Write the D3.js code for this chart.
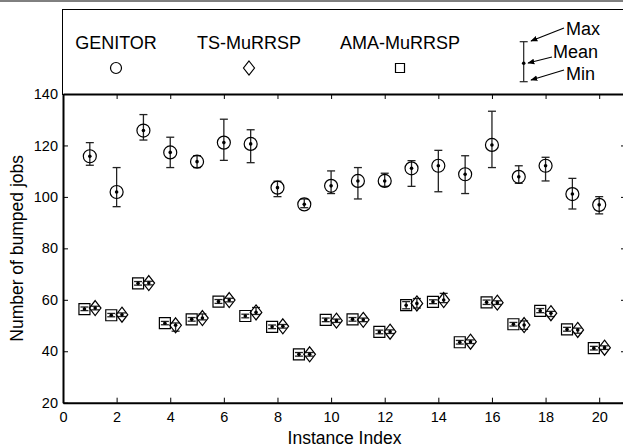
<!DOCTYPE html>
<html>
<head>
<meta charset="utf-8">
<script src="https://cdn.jsdelivr.net/npm/d3@7.9.0/dist/d3.min.js"></script>
<style>
  body { margin: 0; background: #fff; }
  svg { display: block; font-family: "Liberation Sans", Arial, sans-serif; }
</style>
</head>
<body>
<svg width="623" height="448"></svg>
<script>
// instance indices
const instances = d3.range(1, 21);

// GENITOR
const genMean = [115.8, 101.9, 125.8, 117.3, 113.7, 121.1, 120.6, 103.6, 97.1, 104.3, 106.2, 106.2, 111.1, 112.1, 108.8, 120.2, 107.8, 112.1, 101.1, 96.9];
const genMax  = [121.1, 111.4, 132.0, 123.2, 116.0, 130.2, 126.1, 106.1, 99.2, 110.1, 111.4, 109.2, 114.1, 118.1, 116.0, 133.3, 112.1, 115.4, 107.2, 100.1];
const genMin  = [112.3, 96.2, 122.1, 111.4, 111.4, 114.2, 113.3, 100.1, 95.8, 101.3, 99.2, 104.1, 104.1, 102.0, 101.3, 111.4, 105.3, 106.2, 95.3, 93.4];

// TS-MuRRSP
const tsMean = [56.8, 54.2, 66.5, 50.1, 52.9, 59.9, 55.1, 49.7, 38.8, 51.9, 52.2, 47.6, 58.6, 59.9, 43.7, 58.9, 50.2, 54.8, 48.3, 41.4];
const tsMax  = [57.5, 54.9, 67.2, 51.0, 54.5, 60.6, 57.0, 50.4, 39.5, 52.5, 52.9, 48.3, 60.5, 62.5, 44.4, 59.6, 51.8, 55.5, 49.0, 42.1];
const tsMin  = [56.1, 53.5, 65.8, 47.8, 52.2, 59.2, 54.3, 49.0, 38.1, 51.2, 51.5, 46.9, 56.8, 58.9, 43.0, 58.2, 48.5, 53.5, 47.0, 40.7];

// AMA-MuRRSP
const amaMean = [56.4, 54.0, 66.4, 50.9, 52.4, 59.3, 53.7, 49.5, 38.8, 52.2, 52.4, 47.5, 57.9, 59.2, 43.5, 59.0, 50.5, 55.7, 48.5, 41.2];
const amaMax  = [57.2, 54.7, 67.1, 51.6, 53.1, 60.1, 54.4, 50.2, 39.5, 52.9, 53.1, 48.2, 59.3, 60.0, 44.2, 59.9, 51.2, 56.6, 49.3, 41.9];
const amaMin  = [55.8, 53.4, 65.7, 50.3, 51.7, 58.6, 53.0, 48.8, 38.1, 51.5, 51.7, 46.8, 56.5, 58.5, 42.8, 58.2, 49.8, 55.0, 47.8, 40.5];

const xTicks = d3.range(0, 21, 2);
const yTicks = d3.range(20, 141, 20);
const legendNames = ["GENITOR", "TS-MuRRSP", "AMA-MuRRSP"];

const svg = d3.select("svg");

const x = d3.scaleLinear().domain([0, 21]).range([63, 626]);
const y = d3.scaleLinear().domain([20, 140]).range([402.7, 94]);

// top rule and legend box
svg.append("line").attr("x1", 0).attr("x2", 623).attr("y1", 1).attr("y2", 1)
   .attr("stroke", "#000").attr("stroke-width", 1);
svg.append("rect").attr("x", 62.5).attr("y", 9.5).attr("width", 600).attr("height", 85)
   .attr("fill", "none").attr("stroke", "#000").attr("stroke-width", 1);

// axes (ticks inside, on all four sides)
const gx = svg.append("g").attr("transform", `translate(0,${y(20)})`)
  .call(d3.axisBottom(x).tickValues(xTicks).tickSizeInner(-5).tickSizeOuter(0).tickPadding(9));
const gxTop = svg.append("g").attr("transform", `translate(0,${y(140)})`)
  .call(d3.axisTop(x).tickValues(xTicks).tickSizeInner(-5).tickSizeOuter(0).tickFormat(""));
const gy = svg.append("g").attr("transform", `translate(${x(0)},0)`)
  .call(d3.axisLeft(y).tickValues(yTicks).tickSizeInner(-5).tickSizeOuter(0).tickPadding(5));
const gyRight = svg.append("g").attr("transform", `translate(${x(21)},0)`)
  .call(d3.axisRight(y).tickValues(yTicks).tickSizeInner(-5).tickSizeOuter(0).tickFormat(""));

[gx, gxTop, gy, gyRight].forEach(g => {
  g.select(".domain").attr("stroke", "#000").attr("stroke-width", 2);
  g.selectAll(".tick line").attr("stroke", "#000").attr("stroke-width", 1);
  g.selectAll(".tick text").attr("fill", "#000").style("font-size", "14.5px")
   .style("font-family", "'Liberation Sans', Arial, sans-serif");
});

// axis titles
svg.append("text").attr("x", x(10.5)).attr("y", 444).attr("text-anchor", "middle")
   .style("font-size", "17.5px").text("Instance Index");
svg.append("text").attr("transform", `translate(23,${y(80)}) rotate(-90)`)
   .attr("text-anchor", "middle").style("font-size", "17.5px").text("Number of bumped jobs");

// error bars
function errorBars(offset, mean, mx, mn) {
  const g = svg.append("g").attr("stroke", "#222").attr("stroke-width", 1.3);
  instances.forEach((d, i) => {
    const cx = x(d + offset);
    g.append("line").attr("x1", cx).attr("x2", cx).attr("y1", y(mx[i])).attr("y2", y(mn[i]));
    g.append("line").attr("x1", cx - 4).attr("x2", cx + 4).attr("y1", y(mx[i])).attr("y2", y(mx[i]));
    g.append("line").attr("x1", cx - 4).attr("x2", cx + 4).attr("y1", y(mn[i])).attr("y2", y(mn[i]));
    svg.append("circle").attr("cx", cx).attr("cy", y(mean[i])).attr("r", 1.8).attr("fill", "#000");
  });
}
errorBars(0, genMean, genMax, genMin);
errorBars(-0.2, amaMean, amaMax, amaMin);
errorBars(0.2, tsMean, tsMax, tsMin);

// markers
const circlePath = (cx, cy, r) => `M${cx + r},${cy}A${r},${r} 0 1,1 ${cx - r},${cy}A${r},${r} 0 1,1 ${cx + r},${cy}Z`;
const squarePath = (cx, cy, h) => `M${cx - h},${cy - h}H${cx + h}V${cy + h}H${cx - h}Z`;
const diamondPath = (cx, cy, w, h) => `M${cx},${cy - h}L${cx + w},${cy}L${cx},${cy + h}L${cx - w},${cy}Z`;

svg.append("g").selectAll("path").data(instances).join("path")
  .attr("d", (d, i) => circlePath(x(d), y(genMean[i]), 6.5))
  .attr("fill", "none").attr("stroke", "#000").attr("stroke-width", 1.2);
svg.append("g").selectAll("path").data(instances).join("path")
  .attr("d", (d, i) => squarePath(x(d - 0.2), y(amaMean[i]), 5.5))
  .attr("fill", "none").attr("stroke", "#000").attr("stroke-width", 1.2);
svg.append("g").selectAll("path").data(instances).join("path")
  .attr("d", (d, i) => diamondPath(x(d + 0.2), y(tsMean[i]), 5.8, 7.5))
  .attr("fill", "none").attr("stroke", "#000").attr("stroke-width", 1.2);

// legend
const legX = [116, 249, 400];
legendNames.forEach((n, i) => {
  svg.append("text").attr("x", legX[i]).attr("y", 49).attr("text-anchor", "middle")
     .style("font-size", "18px").text(n);
});
svg.append("path").attr("d", circlePath(legX[0], 68, 5.5)).attr("fill", "none").attr("stroke", "#000").attr("stroke-width", 1.2);
svg.append("path").attr("d", diamondPath(legX[1], 68, 5.5, 7)).attr("fill", "none").attr("stroke", "#000").attr("stroke-width", 1.2);
svg.append("path").attr("d", squarePath(legX[2], 68, 4.5)).attr("fill", "none").attr("stroke", "#000").attr("stroke-width", 1.2);

// legend error bar key
const kx = 523.7, kTop = 41.7, kBot = 81.7, kMid = 63.3;
const kg = svg.append("g").attr("stroke", "#222").attr("stroke-width", 1.2);
kg.append("line").attr("x1", kx).attr("x2", kx).attr("y1", kTop).attr("y2", kBot);
kg.append("line").attr("x1", kx - 4).attr("x2", kx + 4).attr("y1", kTop).attr("y2", kTop);
kg.append("line").attr("x1", kx - 4).attr("x2", kx + 4).attr("y1", kBot).attr("y2", kBot);
svg.append("circle").attr("cx", kx).attr("cy", kMid).attr("r", 1.8).attr("fill", "#000");

svg.append("defs").append("marker").attr("id", "arr").attr("viewBox", "0 0 10 10")
  .attr("refX", 9).attr("refY", 5).attr("markerWidth", 7).attr("markerHeight", 7)
  .attr("markerUnits", "userSpaceOnUse").attr("orient", "auto")
  .append("path").attr("d", "M0,1L10,5L0,9Z").attr("fill", "#000");

const arrows = [[564, 28, 531, 41], [552, 57, 528, 63], [564, 70, 531, 80]];
arrows.forEach(a => {
  svg.append("line").attr("x1", a[0]).attr("y1", a[1]).attr("x2", a[2]).attr("y2", a[3])
     .attr("stroke", "#000").attr("stroke-width", 1.2).attr("marker-end", "url(#arr)");
});
svg.append("text").attr("x", 566).attr("y", 35).style("font-size", "18px").text("Max");
svg.append("text").attr("x", 553).attr("y", 58).style("font-size", "18px").text("Mean");
svg.append("text").attr("x", 566).attr("y", 80).style("font-size", "18px").text("Min");
</script>
</body>
</html>
